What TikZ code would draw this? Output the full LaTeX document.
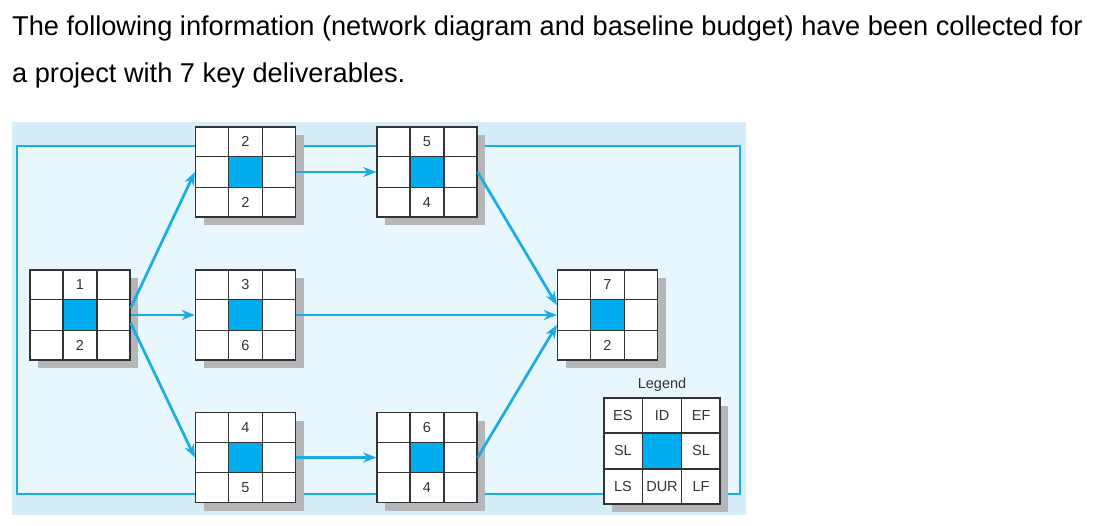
\documentclass[tikz,border=0pt]{standalone}
\usepackage{fontspec}
\setmainfont{Liberation Sans}
\usetikzlibrary{arrows.meta,calc,shadows}
\definecolor{panel}{HTML}{D5ECF9}
\definecolor{inner}{HTML}{E8F6FD}
\definecolor{flow}{HTML}{1AADE4}
\definecolor{core}{HTML}{00AEEF}
\definecolor{shade}{HTML}{B4B6B9}
\definecolor{ink}{HTML}{333333}
\tikzset{
  taskbox/.style={draw=ink,line width=1.3pt,fill=white,inner sep=0pt,
    minimum width=100pt,minimum height=90pt,
    drop shadow={shadow xshift=8pt,shadow yshift=-8pt,fill=shade,opacity=1}},
  gridline/.style={ink,line width=1.3pt},
  link/.style={flow,line width=2.7pt,-{Stealth[length=13pt,width=10pt,inset=4pt]}},
  num/.style={font=\fontsize{14.5}{14.5}\selectfont,text=ink,inner sep=0pt},
  intro/.style={anchor=base west,inner sep=0pt,font=\fontsize{27.2}{27.2}\selectfont},
}
\newcommand{\task}[5][]{%
  \node[taskbox,#1] (#2) at (#3) {};
  \fill[core] ($(#2.north west)!0.3333!(#2.south east)$) rectangle ($(#2.north west)!0.6667!(#2.south east)$);
  \foreach \f in {0.3333,0.6667} {
    \draw[gridline] ($(#2.north west)!\f!(#2.north east)$) -- ($(#2.south west)!\f!(#2.south east)$);
    \draw[gridline] ($(#2.north west)!\f!(#2.south west)$) -- ($(#2.north east)!\f!(#2.south east)$);
  }
  \node[num] (#2-id) at ($(#2.north)!1/6!(#2.south)$) {#4};
  \node[num] (#2-dur) at ($(#2.north)!5/6!(#2.south)$) {#5};}

\begin{document}
\begin{tikzpicture}[x=1pt,y=-1pt]
  \useasboundingbox (0,0) rectangle (1098,525);
  \node[intro] (line1) at (12,35) {The following information (network diagram and baseline budget) have been collected for};
  \node[intro] (line2) at (12,82) {a project with 7 key deliverables.};
  % panel and frame
  \fill[panel] (12,122) rectangle (746,515);
  \draw[flow,fill=inner,line width=2.4pt] (17,146) rectangle (740,494);
  % deliverables
  \task{n1}{80,315}{1}{2}
  \task{n2}{245.5,172}{2}{2}
  \task{n3}{245.5,315}{3}{6}
  \task{n4}{245.5,457.5}{4}{5}
  \task{n5}{427,172}{5}{4}
  \task{n6}{427,457.5}{6}{4}
  \task{n7}{607.5,315}{7}{2}
  % legend
  \node[num] (keytitle) at (662,385) {Legend};
  \task[minimum width=116pt,minimum height=106pt]{key}{662,451}{ID}{DUR}
  \node[num] (key-es) at ($(key.north west)!1/6!(key.south east)$) {ES};
  \node[num] (key-ef) at ($(key.north east)!1/6!(key.south west)$) {EF};
  \node[num] (key-sl1) at ($(key.west)!1/6!(key.east)$) {SL};
  \node[num] (key-sl2) at ($(key.east)!1/6!(key.west)$) {SL};
  \node[num] (key-ls) at ($(key.south west)!1/6!(key.north east)$) {LS};
  \node[num] (key-lf) at ($(key.south east)!1/6!(key.north west)$) {LF};
  % links
  \draw[link] ($(n1.east)+(0,-7)$) -- (n2.west);
  \draw[link] (n1.east) -- (n3.west);
  \draw[link] ($(n1.east)+(0,8)$) -- (n4.west);
  \draw[link] (n2.east) -- (n5.west);
  \draw[link] (n4.east) -- (n6.west);
  \draw[link] (n5.east) -- ($(n7.west)+(0,-10)$);
  \draw[link] (n3.east) -- (n7.west);
  \draw[link] (n6.east) -- ($(n7.west)+(0,10)$);
\end{tikzpicture}
\end{document}
